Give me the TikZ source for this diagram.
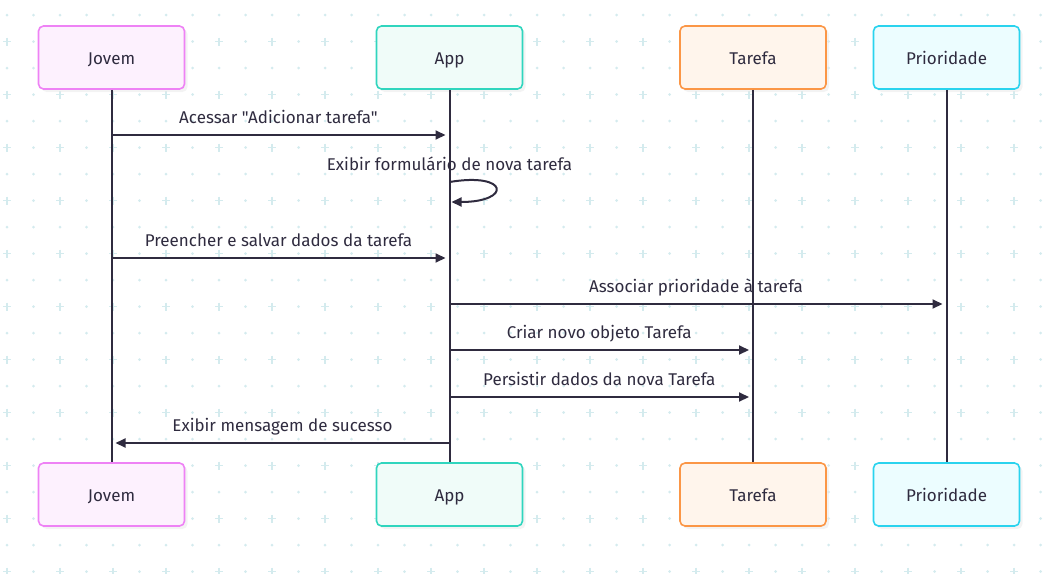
\documentclass[tikz,border=0pt]{standalone}
\usepackage{fontspec}
\setmainfont{Fira Sans}[Ligatures=TeXOff]
\usetikzlibrary{shapes,arrows.meta,calc,shadows}
\definecolor{ink}{HTML}{2F2B3F}
\definecolor{dotc}{HTML}{D4EBEE}
\definecolor{jovemline}{HTML}{EE82F5}
\definecolor{jovemfill}{HTML}{FDF1FE}
\definecolor{appline}{HTML}{30D5BE}
\definecolor{appfill}{HTML}{F0FCF9}
\definecolor{tarefaline}{HTML}{FB9646}
\definecolor{tarefafill}{HTML}{FFF5EC}
\definecolor{prioline}{HTML}{2AD3EE}
\definecolor{priofill}{HTML}{ECFDFF}
\tikzstyle{actor} = [rectangle, draw, line width=1.6pt, rounded corners=5pt,
    minimum width=146pt, minimum height=63pt, text=ink,
    text height=14pt, text depth=0.4pt,
    drop shadow={shadow xshift=3pt, shadow yshift=-3pt, fill=black!9}]
\tikzstyle{life} = [draw, ink, line width=2pt]
\tikzstyle{line} = [draw, ink, line width=2pt, -{Triangle[length=10pt,width=9pt]}]
\tikzstyle{msg} = [anchor=base, yshift=11.5pt, text=ink, inner sep=0pt]

\begin{document}
\begin{tikzpicture}[x=1pt, y=-1pt, font=\fontsize{17}{20}\selectfont]
    \useasboundingbox (0,0) rectangle (1043,573);
    % Background grid
    \foreach \r in {0,...,21} {
      \foreach \c in {0,...,39} {
        \pgfmathsetmacro\xx{7+26.5*\c}
        \pgfmathsetmacro\yy{15+26.5*\r}
        \pgfmathparse{int(mod(\r,2)*(1-mod(\c,2)))}
        \ifnum\pgfmathresult=1
          \draw[dotc, line width=1.5pt] (\xx-4,\yy) -- (\xx+4,\yy) (\xx,\yy-4) -- (\xx,\yy+4);
        \else
          \fill[dotc] (\xx,\yy) circle (1.5pt);
        \fi
      }
    }
    % Place nodes
    \node [actor, draw=jovemline, fill=jovemfill] (jovem) at (111.5,57.5) {Jovem};
    \node [actor, draw=appline, fill=appfill, right of=jovem, node distance=338pt] (app) {App};
    \node [actor, draw=tarefaline, fill=tarefafill, right of=app, node distance=303.5pt] (tarefa) {Tarefa};
    \node [actor, draw=prioline, fill=priofill, right of=tarefa, node distance=193.5pt] (prioridade) {Prioridade};
    \node [actor, draw=jovemline, fill=jovemfill, below of=jovem, node distance=437pt] (jovemB) {Jovem};
    \node [actor, draw=appline, fill=appfill, below of=app, node distance=437pt] (appB) {App};
    \node [actor, draw=tarefaline, fill=tarefafill, below of=tarefa, node distance=437pt] (tarefaB) {Tarefa};
    \node [actor, draw=prioline, fill=priofill, below of=prioridade, node distance=437pt] (prioridadeB) {Prioridade};
    % Lifelines
    \path [life] (jovem) -- (jovemB);
    \path [life] (app) -- (appB);
    \path [life] (tarefa) -- (tarefaB);
    \path [life] (prioridade) -- (prioridadeB);
    % Draw messages
    \path [line] (jovem |- 0,135) -- ($(app |- 0,135)+(-4,0)$) node [midway, msg] {Acessar "Adicionar tarefa"};
    \node [msg] (selfmsg) at (app |- 0,181.5) {Exibir formulário de nova tarefa};
    \path [line] (app |- 0,182) .. controls +(60,-10) and +(60,0) .. ($(app |- 0,202)+(2,0)$);
    \path [line] (jovem |- 0,258) -- ($(app |- 0,258)+(-4,0)$) node [midway, msg] {Preencher e salvar dados da tarefa};
    \path [line] (app |- 0,304) -- ($(prioridade |- 0,304)+(-4,0)$) node [midway, msg] {Associar prioridade à tarefa};
    \path [line] (app |- 0,350) -- ($(tarefa |- 0,350)+(-4,0)$) node [midway, msg] {Criar novo objeto Tarefa};
    \path [line] (app |- 0,397) -- ($(tarefa |- 0,397)+(-4,0)$) node [midway, msg] {Persistir dados da nova Tarefa};
    \path [line] (app |- 0,443) -- ($(jovem |- 0,443)+(4,0)$) node [midway, msg] {Exibir mensagem de sucesso};
\end{tikzpicture}
\end{document}
